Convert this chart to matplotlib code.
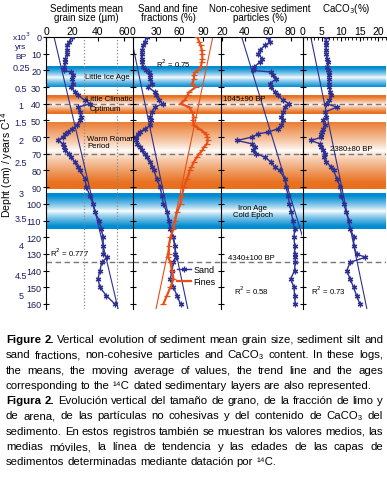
import numpy as np
import matplotlib
matplotlib.use('Agg')
import matplotlib.pyplot as plt
from matplotlib.ticker import MultipleLocator

plt.rcParams['font.family'] = ['Liberation Sans', 'DejaVu Sans']

# depth (cm) of each reading
depth = [0, 3, 5, 8, 10, 13, 15, 18, 20, 21, 23, 25, 28, 30, 33, 35, 38, 40, 42, 45,
         48, 50, 53, 55, 57, 58, 60, 62, 64, 66, 68, 70, 72, 75, 78, 80, 85, 90, 95, 100,
         105, 110, 115, 120, 125, 130, 132, 135, 140, 145, 150, 155, 160]
grain = [20, 18, 16.5, 16, 16, 15, 14.5, 14, 14, 19, 21, 19.7, 21, 19, 22.5, 25, 30, 34, 25, 26,
         27, 26, 24, 20, 17, 15, 13, 9, 13, 14, 14.5, 18, 19, 22.5, 25, 26, 30, 31, 34, 36,
         37.7, 41, 42.5, 44, 44, 44, 47, 43, 41.5, 40, 41.5, 46.5, 53]
sand = [17.4, 15, 13, 11.5, 11, 11, 11, 13, 17, 20, 21.7, 21.7, 24, 19.5, 28, 30, 34, 38, 28, 24,
        21.7, 23, 21.7, 15, 9, 6.5, 4.3, 4, 5, 8.7, 11, 15, 18, 22, 25, 27, 30.4, 34.8, 37, 39,
        43.5, 45.6, 47.8, 52, 54, 54, 55, 52, 50, 48, 52, 56.5, 61]
fines = [82.5, 85, 87, 88.5, 89, 89, 88.5, 87, 83, 80, 78, 78.5, 76, 80.5, 72, 70, 66, 61, 72, 76,
         78, 77, 78, 85, 91, 93.5, 95.5, 96, 95, 91, 89, 85, 82, 78, 75, 73, 69.5, 65, 63, 61,
         56.5, 54, 52, 48, 46, 46, 45, 48, 50, 52, 48, 43.5, 39]
noncoh = [60.3, 62, 57.4, 53, 51.6, 55, 53, 48, 47, 63, 64.6, 67.5, 61.7, 63, 66, 69, 73.5, 79, 74.8, 73.5,
          72, 73.5, 72, 69, 60.4, 51.6, 46, 33, 46, 49, 47, 50, 57.4, 63, 66, 70.4, 74.8, 76.3, 77.7, 79,
          80.6, 82, 83.5, 83, 83.5, 83.5, 84, 84, 83.5, 80, 83, 83.5, 84]
caco3 = [6.2, 6.0, 6.2, 6.0, 6.2, 6.4, 6.6, 6.4, 6.6, 6.8, 6.9, 7.0, 6.8, 7.0, 7.2, 7.5, 7.0, 6.2, 9.0, 5.8,
         6.2, 5.3, 5.8, 5.3, 5.0, 4.9, 4.9, 2.2, 4.4, 4.9, 5.3, 5.8, 5.5, 6.2, 7.5, 8.1, 9.0, 9.9, 10.2, 10.8,
         11.5, 12.1, 12.5, 13.5, 13.4, 14.2, 16.5, 12.5, 11.6, 12.5, 13.4, 14.2, 15.1]

age_labels = ['0.25', '0.5', '1', '1.5', '2', '2.5', '3', '3.5', '4', '4.5', '5']
age_depths = [18, 31, 41, 51, 62, 75, 94, 109, 125, 143, 155]

band_top = [18, 35, 51, 94]
band_bot = [30, 46, 91, 115]
band_kind = ['blue', 'orange', 'orange', 'blue']
band_white = [24.5, 40.5, 68, 104.5]
dated_depths = [40, 70, 135]

NAVY = '#2e3192'
ORANGE = '#e8501a'
LABEL_BLUE = '#1a1a6e'
BAND_RGB = {'blue': np.array([0, 140, 210]) / 255, 'orange': np.array([232, 112, 30]) / 255}

W, H = 387, 481
fig = plt.figure(figsize=(W / 100, H / 100), dpi=100)
Y0, Y1 = 38, 310


def add_panel(x0, x1, xlim, xticks):
    ax = fig.add_axes([x0 / W, 1 - Y1 / H, (x1 - x0) / W, (Y1 - Y0) / H])
    ax.set_xlim(*xlim)
    ax.set_ylim(163, 0)
    ax.xaxis.tick_top()
    ax.set_xticks(xticks)
    ax.tick_params(axis='x', direction='in', length=3, pad=1, labelsize=7.5)
    ax.tick_params(axis='y', direction='inout', length=5, labelsize=6.5)
    ax.yaxis.set_major_locator(MultipleLocator(10))
    ax.spines['right'].set_visible(False)
    ax.spines['bottom'].set_visible(False)
    for s in ax.spines.values():
        s.set_linewidth(0.8)
    ax.patch.set_alpha(0)
    return ax


def draw_bands(ax):
    x0, x1 = ax.get_xlim()
    for top, bot, kind, dw in zip(band_top, band_bot, band_kind, band_white):
        d = np.linspace(top, bot, 200)
        half = max(dw - top, bot - dw)
        inten = np.clip(np.abs(d - dw) / (0.85 * half), 0, 1) ** 0.8
        rgb = 1 - inten[:, None] * (1 - BAND_RGB[kind][None, :])
        img = np.repeat(rgb[:, None, :], 2, axis=1)
        ax.imshow(img, extent=[x0, x1, bot, top], aspect='auto', zorder=0,
                  interpolation='bilinear')
    ax.set_xlim(x0, x1)
    ax.set_ylim(163, 0)
    for d in dated_depths:
        ax.axhline(d, color='#777777', ls=(0, (4, 2.5)), lw=1, zorder=1)


def trend(ax, v, color):
    b, a = np.polyfit(v, depth, 1)
    dd = np.array([0, 163])
    ax.plot((dd - a) / b, dd, color=color, lw=0.8, zorder=2)


def series(ax, v, color, marker, label=None, ms=4, lw=1.0):
    ax.plot(v, depth, color=color, lw=lw, marker=marker, ms=ms, mew=0.9, zorder=3, label=label)


star = (6, 2, 0)

ax1 = add_panel(46, 133, (0, 67), [0, 20, 40, 60])
ax2 = add_panel(133, 221, (0, 113), [0, 30, 60, 90])
ax3 = add_panel(221, 302, (19, 90), [20, 40, 60, 80])
ax4 = add_panel(303, 386, (0, 22), [0, 5, 10, 15, 20])
ax4.xaxis.set_minor_locator(MultipleLocator(1))
ax4.tick_params(axis='x', which='minor', direction='in', length=2)

for ax in (ax1, ax2, ax3, ax4):
    draw_bands(ax)
for ax in (ax2, ax3, ax4):
    ax.tick_params(axis='y', labelleft=False)

ax1.tick_params(axis='y', labelcolor='#1a1a50', pad=1)

# panel 1
for xv in (29, 55):
    ax1.axvline(xv, color='#888888', ls=':', lw=0.9, zorder=1)
trend(ax1, grain, NAVY)
series(ax1, grain, NAVY, star)

# panel 2
trend(ax2, sand, NAVY)
trend(ax2, fines, ORANGE)
series(ax2, sand, NAVY, star, label='Sand')
series(ax2, fines, ORANGE, '_', label='Fines', ms=5, lw=1.6)
ax2.legend(loc='upper left', bbox_to_anchor=(0.5, 0.16), frameon=False, fontsize=6.5,
           handlelength=1.5, handletextpad=0.3, labelspacing=0.25, borderpad=0,
           borderaxespad=0)

# panel 3
trend(ax3, noncoh, NAVY)
series(ax3, noncoh, NAVY, star)

# panel 4
trend(ax4, caco3, NAVY)
series(ax4, caco3, NAVY, star)

# annotations
fs = 5.6
ax1.text(47, 23.6, 'Little Ice Age', fontsize=fs, ha='center', va='center', zorder=4)
ax1.text(48.5, 37, 'Little Climatic', fontsize=fs, ha='center', va='center', zorder=4)
ax1.text(46, 43, 'Optimum', fontsize=fs, ha='center', va='center', zorder=4)
ax1.text(31.5, 61, 'Warm Roman', fontsize=fs, ha='left', va='center', zorder=4)
ax1.text(31.5, 65, 'Period', fontsize=fs, ha='left', va='center', zorder=4)
ax1.text(18.5, 129, 'R$^2$ = 0.777', fontsize=fs, ha='center', va='center', zorder=4)
ax2.text(51.5, 15.2, 'R$^2$ = 0.75', fontsize=fs, ha='center', va='center', zorder=4)
ax3.text(39, 37, '1045±90 BP', fontsize=fs, ha='center', va='center', zorder=4)
ax3.text(47, 102, 'Iron Age', fontsize=fs, ha='center', va='center', zorder=4)
ax3.text(47, 106.5, 'Cold Epoch', fontsize=fs, ha='center', va='center', zorder=4)
ax3.text(46, 132, '4340±100 BP', fontsize=fs, ha='center', va='center', zorder=4)
ax3.text(46, 151.5, 'R$^2$ = 0.58', fontsize=fs, ha='center', va='center', zorder=4)
ax4.text(12.8, 66.6, '2380±80 BP', fontsize=fs, ha='center', va='center', zorder=4)
ax4.text(6.7, 151.5, 'R$^2$ = 0.73', fontsize=fs, ha='center', va='center', zorder=4)

# age scale on the left
tr = ax1.get_yaxis_transform()
xa = (21 - 46) / 87
for lab, d in zip(age_labels, age_depths):
    ax1.text(xa, d, lab, transform=tr, fontsize=6.5, color=LABEL_BLUE, ha='center',
             va='center', clip_on=False)
for lab, d in (('x10$^3$', -0.6), ('yrs', 5.6), ('BP', 11.4)):
    ax1.text(xa, d, lab, transform=tr, fontsize=6, color=LABEL_BLUE, ha='center',
             va='center', clip_on=False)
fig.text(7.5 / W, 1 - 165 / H, 'Depht (cm) / years C$^{14}$', rotation=90, fontsize=7.5,
         ha='center', va='center')

# panel titles
tfs = 7
fig.text(86 / W, 1 - 9 / H, 'Sediments mean', fontsize=tfs, ha='center', va='center')
fig.text(86 / W, 1 - 18 / H, 'grain size (µm)', fontsize=tfs, ha='center', va='center')
fig.text(168 / W, 1 - 9 / H, 'Sand and fine', fontsize=tfs, ha='center', va='center')
fig.text(168 / W, 1 - 18 / H, 'fractions (%)', fontsize=tfs, ha='center', va='center')
fig.text(260 / W, 1 - 9 / H, 'Non-cohesive sediment', fontsize=tfs, ha='center', va='center')
fig.text(260 / W, 1 - 18 / H, 'particles (%)', fontsize=tfs, ha='center', va='center')
fig.text(346 / W, 1 - 9 / H, 'CaCO$_3$(%)', fontsize=tfs, ha='center', va='center')

# caption, justified word by word
caption = [
    ("Figure 2. Vertical evolution of sediment mean grain size, sediment silt and", True),
    ("sand fractions, non-cohesive particles and CaCO₃ content. In these logs,", True),
    ("the means, the moving average of values, the trend line and the ages", True),
    ("corresponding to the ¹⁴C dated sedimentary layers are also represented.", False),
    ("Figura 2. Evolución vertical del tamaño de grano, de la fracción de limo y", True),
    ("de arena, de las partículas no cohesivas y del contenido de CaCO₃ del", True),
    ("sedimento. En estos registros también se muestran los valores medios, las", True),
    ("medias móviles, la línea de tendencia y las edades de las capas de", True),
    ("sedimentos determinadas mediante datación por ¹⁴C.", False),
]
cfs = 8.2
XL, XR = 6, 383
renderer = fig.canvas.get_renderer()


def width_px(t):
    return t.get_window_extent(renderer).width


probe1 = fig.text(0, 0, 'x x', fontsize=cfs)
probe2 = fig.text(0, 0, 'xx', fontsize=cfs)
space = width_px(probe1) - width_px(probe2)
probe1.remove()
probe2.remove()

for i, (line, justify) in enumerate(caption):
    ypx = 340 + 15.3 * i
    words = line.split(' ')
    texts = []
    for j, w in enumerate(words):
        bold = (i in (0, 4)) and j < 2
        texts.append(fig.text(0, 1 - ypx / H, w, fontsize=cfs, va='center', ha='left',
                              fontweight='bold' if bold else 'normal'))
    widths = [width_px(t) for t in texts]
    if justify and len(words) > 1:
        gap = (XR - XL - sum(widths)) / (len(words) - 1)
    else:
        gap = space
    x = XL
    for t, w in zip(texts, widths):
        t.set_x(x / W)
        x += w + gap

fig.savefig('out.png', dpi=100)
